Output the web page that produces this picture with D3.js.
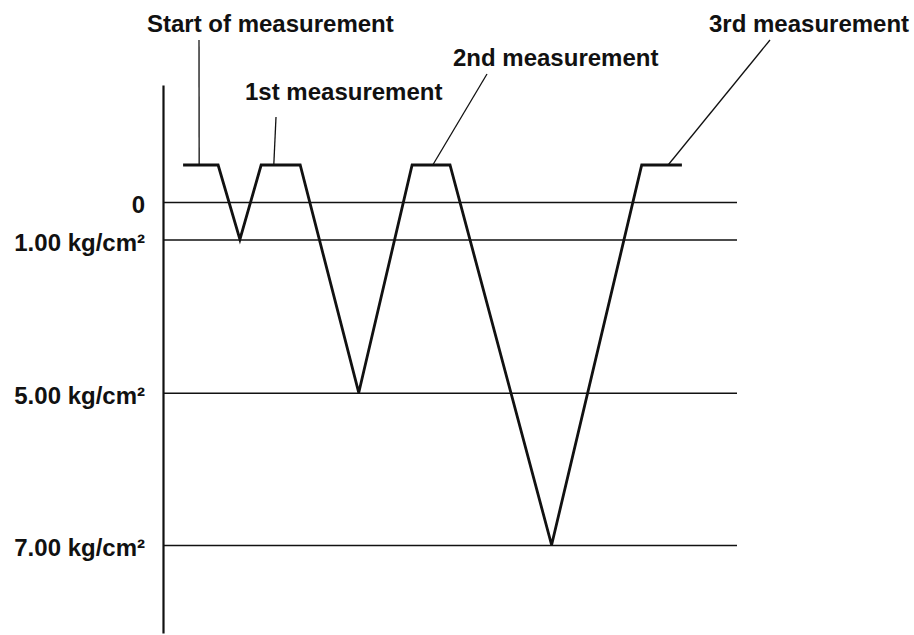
<!DOCTYPE html>
<html>
<head>
<meta charset="utf-8">
<script src="https://cdn.jsdelivr.net/npm/d3@7"></script>
<style>
  body { margin: 0; background: #fff; }
  text { font-family: "Liberation Sans", Arial, Helvetica, sans-serif; font-weight: bold; fill: #111; }
</style>
</head>
<body>
<div id="chart"></div>
<script>
// pressure levels drawn as horizontal reference lines
var levels = [0, 1, 5, 7];
var levelLabels = ["0", "1.00 kg/cm\u00b2", "5.00 kg/cm\u00b2", "7.00 kg/cm\u00b2"];

// pressure trace: time (arbitrary units) and pressure level (-1 = idle, above zero)
var times = [3.5, 9.6, 13.4, 17.1, 23.9, 34.1, 43.4, 50.0, 67.7, 83.4, 90.4];
var pressures = [-1, -1, 1, -1, -1, 5, -1, -1, 7, -1, -1];

// call-outs and the time on the idle plateau they point to
var notes = ["Start of measurement", "1st measurement", "2nd measurement", "3rd measurement"];
var noteTimes = [6.3, 19.3, 47.0, 88.0];

(function () {
    var width = 914, height = 635;

    var svg = d3.select("#chart").append("svg")
        .attr("width", width)
        .attr("height", height);

    // schematic (non uniform) pressure scale
    var yScale = d3.scaleLinear()
        .domain([-3.16, -1, 0, 1, 5, 7, 8.16])
        .range([85, 165, 202, 239.5, 392.7, 545, 633]);
    var xScale = d3.scaleLinear().domain([0, 100]).range([163, 737]);

    // axis + reference lines
    var axis = svg.append("g")
        .attr("transform", "translate(" + xScale(0) + ",0)")
        .call(d3.axisLeft(yScale)
            .tickValues(levels)
            .tickFormat(function (d, i) { return levelLabels[i]; })
            .tickSizeInner(-(xScale(100) - xScale(0)))
            .tickSizeOuter(0)
            .tickPadding(18));
    axis.select(".domain").attr("stroke", "#111").attr("stroke-width", 2.2);
    axis.selectAll(".tick line").attr("stroke", "#111").attr("stroke-width", 1.6);
    axis.selectAll(".tick text")
        .attr("font-size", 24)
        .attr("font-family", null)
        .attr("dy", "0.45em");

    // pressure trace
    var line = d3.line()
        .x(function (d) { return xScale(d[0]); })
        .y(function (d) { return yScale(d[1]); });
    svg.append("path")
        .datum(d3.zip(times, pressures))
        .attr("d", line)
        .attr("fill", "none")
        .attr("stroke", "#111")
        .attr("stroke-width", 2.8)
        .attr("stroke-linejoin", "miter");

    // leader geometry: top of leader and text start / baseline
    var leaderTop = [[199, 40], [276, 117], [487, 74], [770, 40]];
    var textPos = [[147, 32], [245, 100], [453, 66], [709, 32]];

    var note = svg.selectAll(".note")
        .data(notes)
        .enter().append("g")
        .attr("class", "note");

    note.append("line")
        .attr("x1", function (d, i) { return xScale(noteTimes[i]); })
        .attr("y1", yScale(-1))
        .attr("x2", function (d, i) { return leaderTop[i][0]; })
        .attr("y2", function (d, i) { return leaderTop[i][1]; })
        .attr("stroke", "#111")
        .attr("stroke-width", 1.3);

    note.append("text")
        .attr("x", function (d, i) { return textPos[i][0]; })
        .attr("y", function (d, i) { return textPos[i][1]; })
        .attr("font-size", 24)
        .text(function (d) { return d; });
})();
</script>
</body>
</html>
